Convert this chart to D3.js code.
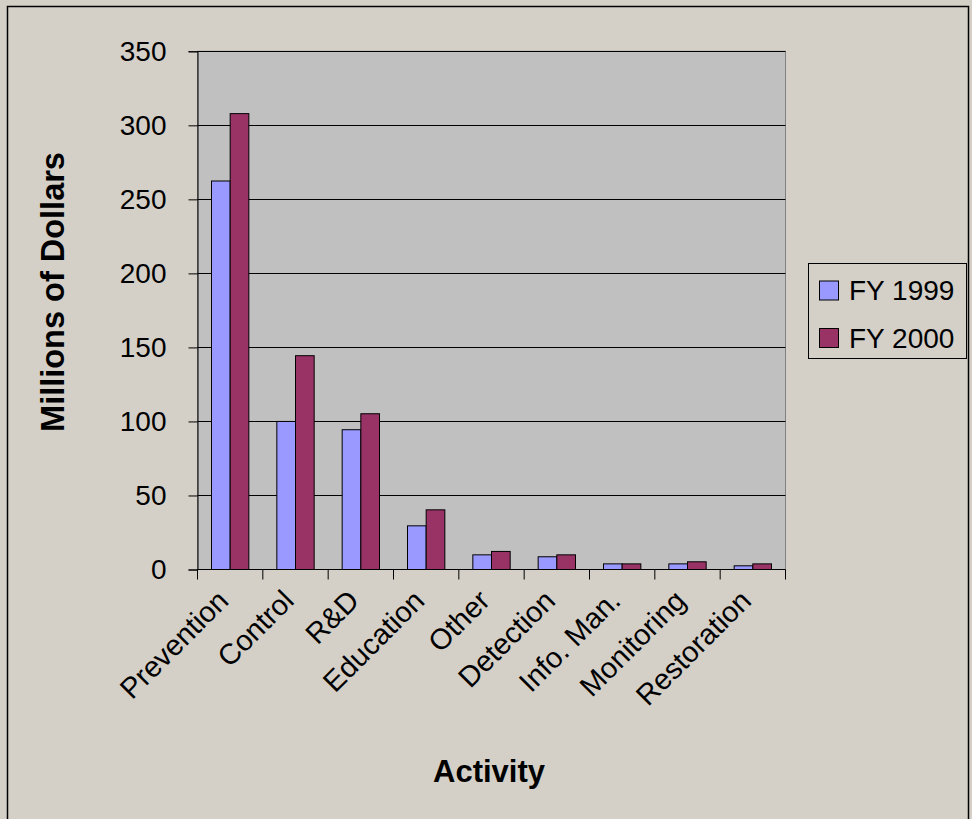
<!DOCTYPE html>
<html><head><meta charset="utf-8">
<script src="https://cdn.jsdelivr.net/npm/d3@7"></script>
<style>html,body{margin:0;padding:0;background:#D4D0C8;}svg{display:block;}</style>
</head><body>
<script>
const categories = ["Prevention","Control","R&D","Education","Other","Detection","Info. Man.","Monitoring","Restoration"];
const fy1999 = [262.4, 100, 94.4, 29.5, 9.9, 8.6, 3.8, 3.8, 2.5];
const fy2000 = [307.9, 144.4, 105.2, 40.3, 12.2, 9.9, 3.8, 5.2, 3.8];
const seriesNames = ["FY 1999","FY 2000"];
const yTicks = [0,50,100,150,200,250,300,350];

const W = 972, H = 819;
const colors = ["#9999FF","#993366"];
const font = "Liberation Sans, Arial, sans-serif";
const svg = d3.select("body").append("svg").attr("width",W).attr("height",H);

svg.append("rect").attr("x",0).attr("y",0).attr("width",W).attr("height",H).attr("fill","#D4D0C8");
svg.append("rect").attr("x",7.5).attr("y",6.5).attr("width",961).attr("height",830)
  .attr("fill","#D4D0C8").attr("stroke","#000").attr("stroke-width",1.5);

const L = 197.5, R = 785.5, T = 51.3, B = 569.5;
const x = d3.scaleBand().domain(categories).range([L,R]).paddingInner(0).paddingOuter(0);
const x1 = d3.scaleBand().domain([0,1]).range([0, x.bandwidth()]).paddingInner(0).paddingOuter(0.75);
const y = d3.scaleLinear().domain([0,350]).range([B,T]);

svg.append("rect").attr("x",L).attr("y",T).attr("width",R-L).attr("height",B-T)
  .attr("fill","#C0C0C0").attr("stroke","#808080").attr("stroke-width",1);

svg.append("g").selectAll("line").data(yTicks.filter(d=>d>0)).join("line")
  .attr("x1",L).attr("x2",R).attr("y1",d=>Math.round(y(d))+0.5).attr("y2",d=>Math.round(y(d))+0.5)
  .attr("stroke","#000").attr("stroke-width",1);

const data = [fy1999, fy2000];
data.forEach((vals, s) => {
  svg.append("g").selectAll("rect").data(vals).join("rect")
    .attr("x",(d,i)=>x(categories[i]) + x1(s))
    .attr("y",d=>y(d))
    .attr("width",x1.bandwidth())
    .attr("height",d=>B-y(d))
    .attr("fill",colors[s]).attr("stroke","#000").attr("stroke-width",1);
});

// Y axis
const yAxis = d3.axisLeft(y).tickValues(yTicks).tickSize(9).tickPadding(22);
const gy = svg.append("g").attr("transform",`translate(${L},0)`).call(yAxis);
gy.select(".domain").attr("stroke","#000");
gy.selectAll(".tick line").attr("stroke","#000");
gy.selectAll("text").attr("font-family",font).attr("font-size",28).attr("fill","#000");

// X axis
svg.append("line").attr("x1",L).attr("x2",R).attr("y1",B).attr("y2",B).attr("stroke","#000");
const bounds = categories.map(c=>x(c)).concat([R]);
svg.append("g").selectAll("line").data(bounds).join("line")
  .attr("x1",d=>d).attr("x2",d=>d).attr("y1",B).attr("y2",B+10).attr("stroke","#000");
svg.append("g").selectAll("text").data(categories).join("text")
  .attr("transform",d=>`translate(${x(d)+x.bandwidth()/2},${B+33}) rotate(-45)`)
  .attr("text-anchor","end")
  .attr("font-family",font).attr("font-size",29).attr("fill","#000")
  .text(d=>d);

// Axis titles
svg.append("text").attr("transform","translate(64,292) rotate(-90)")
  .attr("text-anchor","middle").attr("font-family",font).attr("font-size",32.5).attr("font-weight","bold")
  .text("Millions of Dollars");
svg.append("text").attr("x",489).attr("y",782)
  .attr("text-anchor","middle").attr("font-family",font).attr("font-size",31).attr("font-weight","bold")
  .text("Activity");

// Legend
const lg = svg.append("g");
lg.append("rect").attr("x",808.5).attr("y",263.5).attr("width",158).attr("height",95)
  .attr("fill","#D4D0C8").attr("stroke","#000");
seriesNames.forEach((n,i)=>{
  const yy = 281 + i*47.5;
  lg.append("rect").attr("x",819.5).attr("y",yy).attr("width",19).attr("height",19)
    .attr("fill",colors[i]).attr("stroke","#000");
  lg.append("text").attr("x",849).attr("y",yy+19).attr("font-family",font).attr("font-size",28).text(n);
});
</script>
</body></html>
